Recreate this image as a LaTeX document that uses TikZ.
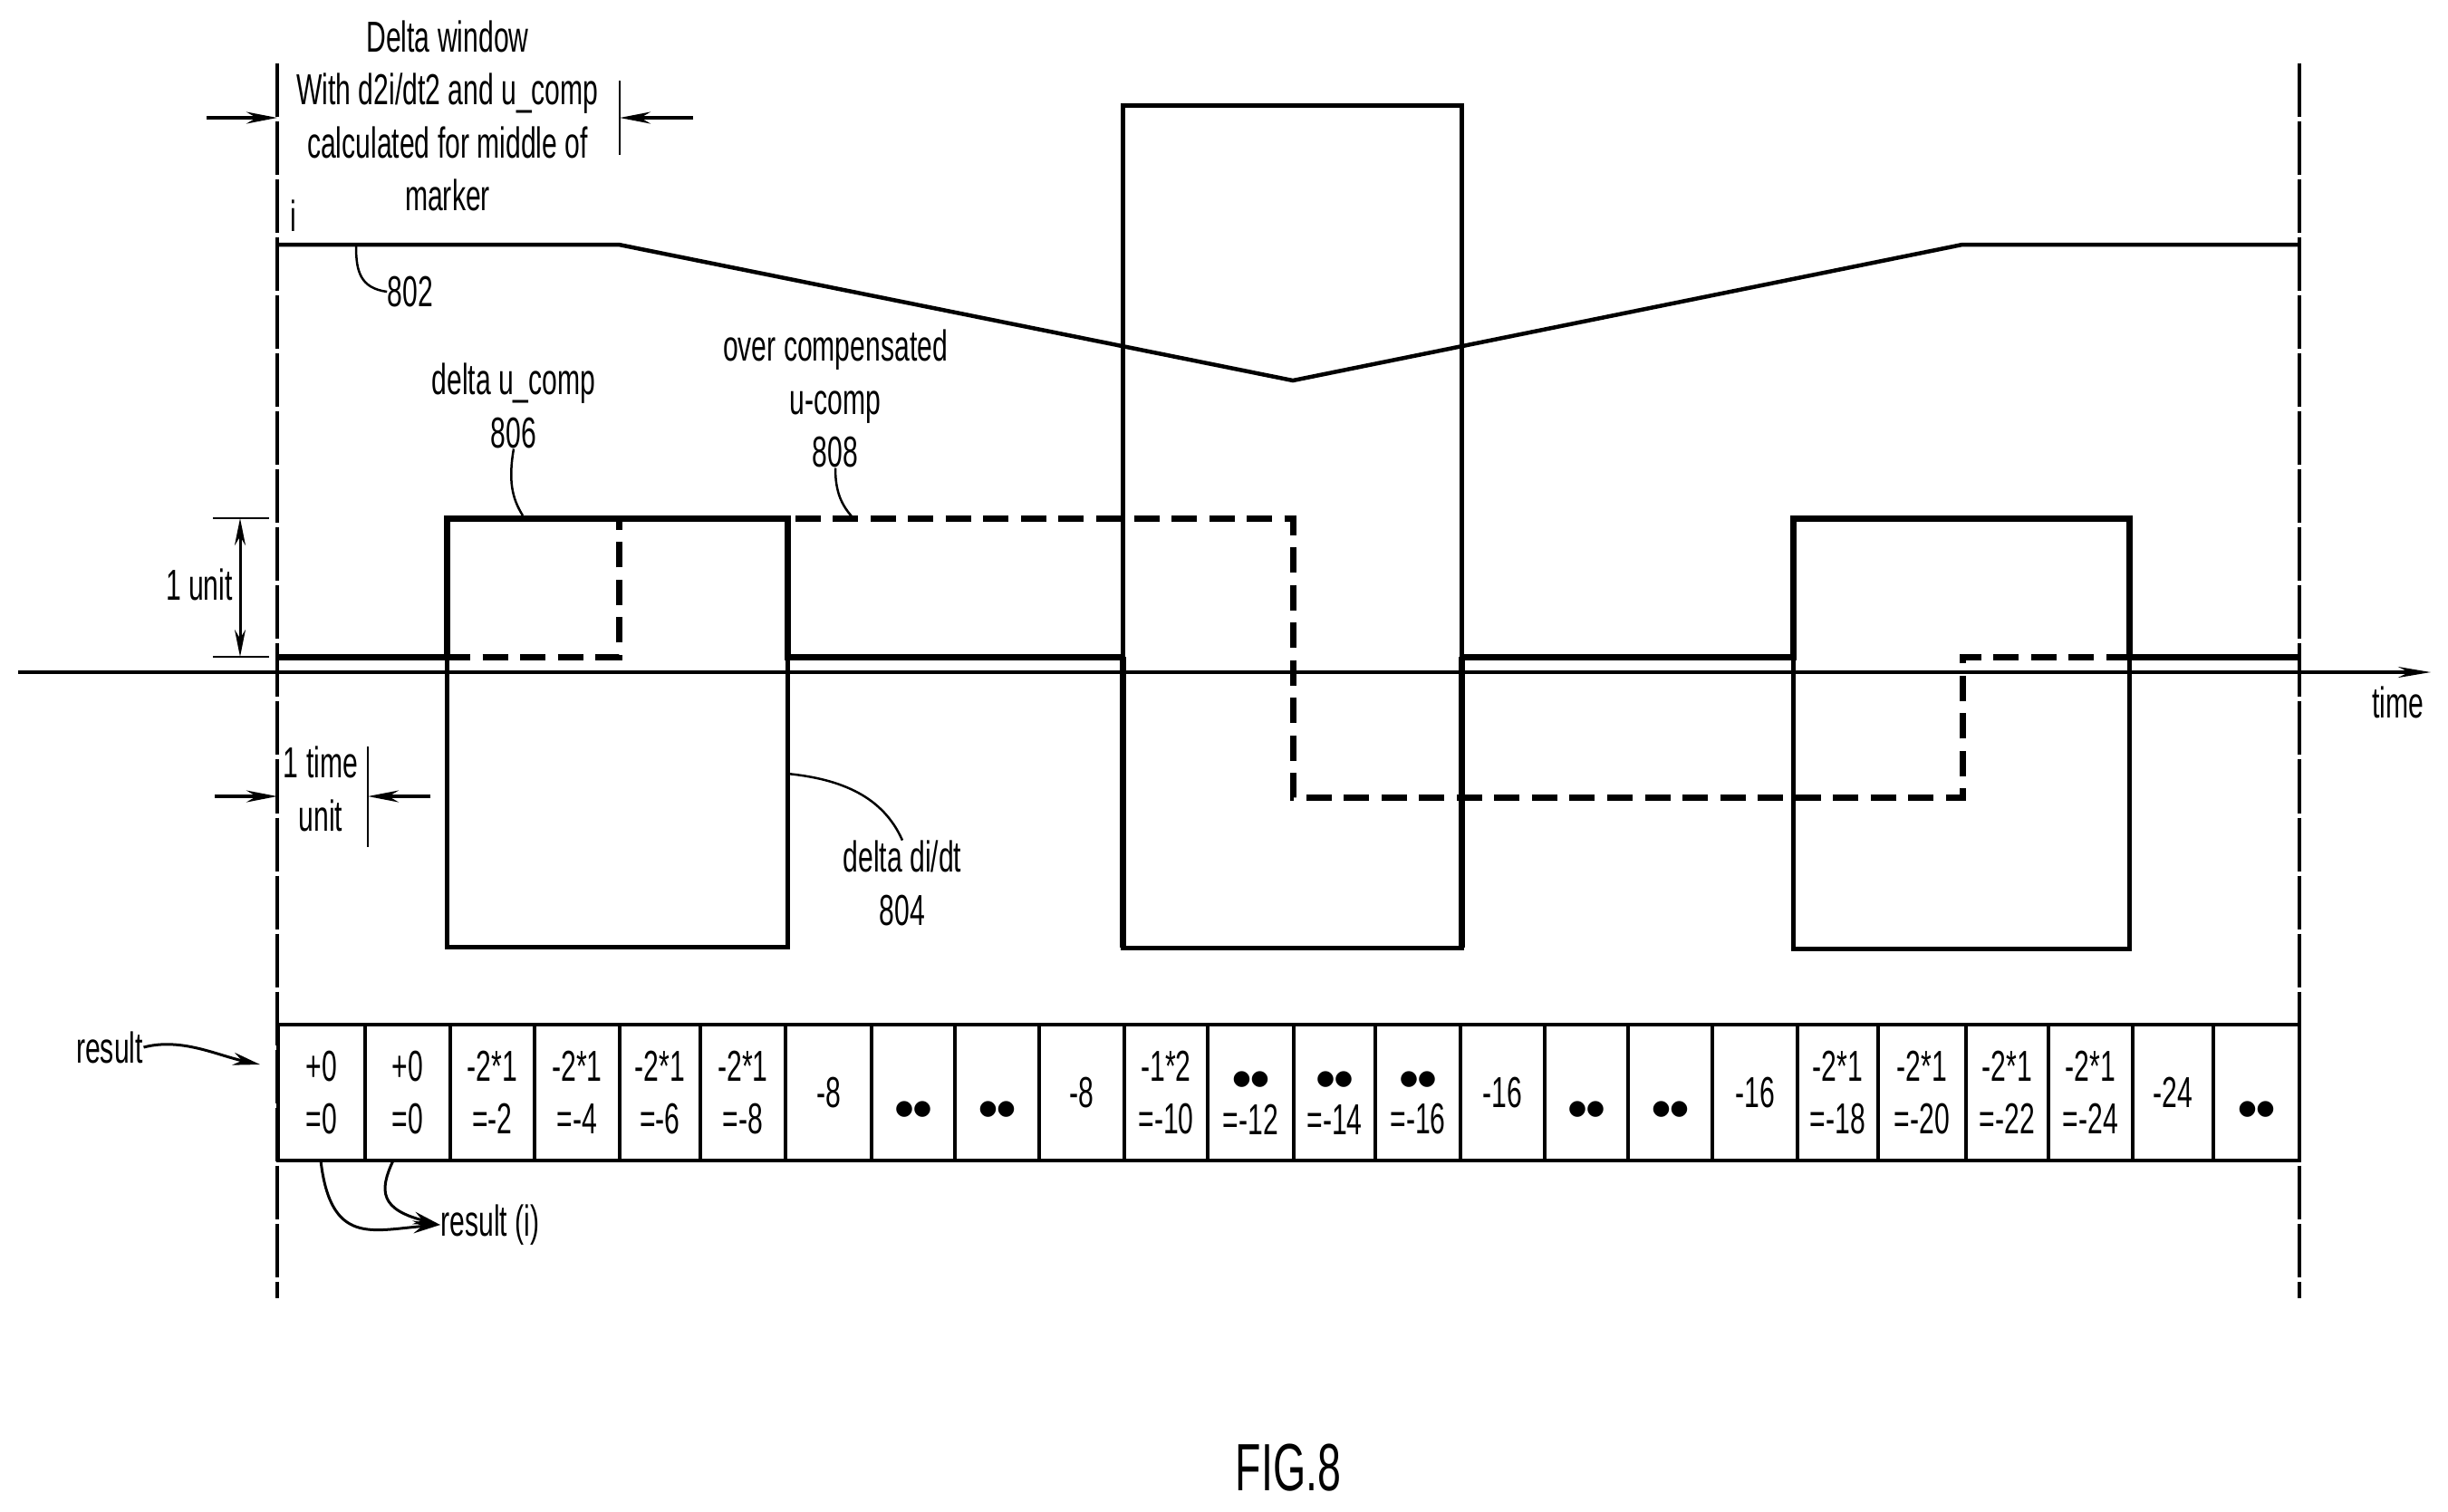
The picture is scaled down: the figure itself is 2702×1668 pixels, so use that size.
\documentclass[tikz,border=0pt]{standalone}
\usepackage{fontspec}
\setmainfont[FakeStretch=0.63]{Liberation Sans}
\newfontfamily\dotfont{DejaVu Sans}
\usetikzlibrary{arrows.meta, positioning}
\newcommand{\lonedots}{\raisebox{-0.24cm}[0pt][0pt]{\dotfont\fontsize{6.5}{8}\selectfont ●●}}
\newcommand{\topdots}{\rule{0pt}{0.34cm}\raisebox{-0.04cm}[0pt][0pt]{\dotfont\fontsize{6.5}{8}\selectfont ●●}}

\begin{document}
\begin{tikzpicture}[x=0.01cm, y=-0.01cm,
        lbl/.style={align=center, inner sep=0pt, font=\fontsize{13.6}{16.6}\selectfont},
        cell/.style={draw, line width=0.04cm, minimum height=1.49cm, inner sep=0pt, outer sep=0pt, align=center, font=\fontsize{13.6}{16.6}\selectfont},
        window/.style={line width=0.032cm, dash pattern=on 0.59cm off 0.05cm},
        axis/.style={line width=0.033cm, -{Stealth[length=0.36cm,width=0.12cm]}},
        current/.style={line width=0.045cm},
        boxline/.style={line width=0.05cm},
        ucomp/.style={line width=0.07cm},
        overcomp/.style={line width=0.07cm, dash pattern=on 0.28cm off 0.135cm},
        tick/.style={line width=0.028cm},
        dimarrow/.style={line width=0.035cm, -{Stealth[length=0.34cm,width=0.13cm]}},
        leader/.style={line width=0.025cm},
        tiparrow/.style={line width=0.03cm, -{Stealth[length=0.3cm,width=0.14cm]}}
    ]
        \useasboundingbox (0,0) rectangle (2702,1668);

        \draw[window] (306,70) -- (306,1433);
        \draw[window] (2538,70) -- (2538,1433);

        \draw[boxline] (493,572) rectangle (869,1045);
        \draw[boxline] (1239,116) rectangle (1613,1046);
        \draw[boxline] (1979,573) rectangle (2350,1047);
        \draw[ucomp] (1239,725) -- (1239,1046);
        \draw[ucomp] (1613,725) -- (1613,1046);

        \node[lbl] (time) at (2647,775) {time};
        \coordinate (axisL) at (20,742);
        \coordinate (axisR) at (2683,742);
        \draw[axis] (axisL) -- (axisR);

        \draw[current] (306,270) -- (683,270) -- (1427,420) -- (2166,270) -- (2538,270);
        \draw[ucomp] (306,725) -- (493,725) -- (493,572) -- (869,572) -- (869,725) -- (1239,725);
        \draw[ucomp] (1613,725) -- (1979,725) -- (1979,572) -- (2350,572) -- (2350,725) -- (2538,725);
        \draw[overcomp] (491,725) -- (683,725) -- (683,572) -- (1427,572) -- (1427,880) -- (2166,880) -- (2166,725) -- (2350,725);

        \node[lbl] (title) at (494,128) {Delta window\\With d2i/dt2 and u\_comp\\calculated for middle of\\marker};
        \node[lbl] (ilabel) at (324,238) {i};
        \node[lbl] (lbl802) at (453,322) {802};
        \node[lbl] (lbl806) at (567,448) {delta u\_comp\\806};
        \node[lbl] (lbl808) at (922,440) {over compensated\\u-comp\\808};
        \node[lbl] (lbl804) at (996,975) {delta di/dt\\804};
        \node[lbl] (oneunit) at (220,645) {1 unit};
        \node[lbl] (onetime) at (354,871) {1 time\\unit};
        \node[lbl] (result) at (121,1156) {result};
        \node[lbl] (resulti) at (541,1352) {result (i)};
        \node[font=\fontsize{21}{24}\selectfont, inner sep=0pt] (figlabel) at (1422,1620) {FIG.8};

        \coordinate (winOutL) at (228,130);
        \coordinate (winInL) at (306,130);
        \coordinate (winOutR) at (765,130);
        \coordinate (winInR) at (684,130);
        \coordinate (winTopR) at (684,89);
        \coordinate (winBotR) at (684,171);
        \draw[tick] (winTopR) -- (winBotR);
        \draw[dimarrow] (winOutL) -- (winInL);
        \draw[dimarrow] (winOutR) -- (winInR);

        \coordinate (unitTopL) at (235,572);
        \coordinate (unitTopR) at (297,572);
        \coordinate (unitBotL) at (235,725);
        \coordinate (unitBotR) at (297,725);
        \coordinate (unitTop) at (265,572);
        \coordinate (unitBot) at (265,725);
        \draw[tick] (unitTopL) -- (unitTopR);
        \draw[tick] (unitBotL) -- (unitBotR);
        \draw[line width=0.03cm, {Stealth[length=0.3cm,width=0.12cm]}-{Stealth[length=0.3cm,width=0.12cm]}] (unitTop) -- (unitBot);

        \coordinate (timeOutL) at (237,879);
        \coordinate (timeInL) at (306,879);
        \coordinate (timeOutR) at (475,879);
        \coordinate (timeInR) at (406,879);
        \coordinate (timeTopR) at (406,824);
        \coordinate (timeBotR) at (406,935);
        \draw[tick] (timeTopR) -- (timeBotR);
        \draw[dimarrow] (timeOutL) -- (timeInL);
        \draw[dimarrow] (timeOutR) -- (timeInR);

        \coordinate (on802) at (393,272);
        \coordinate (on806) at (577,569);
        \coordinate (on808) at (940,570);
        \coordinate (on804) at (869,854);
        \draw[leader] (on802) .. controls (393,300) and (398,318) .. (lbl802.west);
        \draw[leader] (lbl806.south) .. controls (561,530) and (565,550) .. (on806);
        \draw[leader] (lbl808.south) .. controls (922,545) and (930,558) .. (on808);
        \draw[leader] (on804) .. controls (930,860) and (975,880) .. (lbl804.north);

        \foreach \xa/\xb/\txt [count=\n] in {
            307/403/{+0\\=0}, 403/497/{+0\\=0}, 497/590/{-2*1\\=-2}, 590/684/{-2*1\\=-4},
            684/773/{-2*1\\=-6}, 773/867/{-2*1\\=-8}, 867/962/{-8}, 962/1054/{\lonedots},
            1054/1147/{\lonedots}, 1147/1241/{-8}, 1241/1333/{-1*2\\=-10}, 1333/1428/{\topdots\\=-12},
            1428/1518/{\topdots\\=-14}, 1518/1612/{\topdots\\=-16}, 1612/1705/{-16}, 1705/1797/{\lonedots},
            1797/1890/{\lonedots}, 1890/1984/{-16}, 1984/2073/{-2*1\\=-18}, 2073/2170/{-2*1\\=-20},
            2170/2261/{-2*1\\=-22}, 2261/2354/{-2*1\\=-24}, 2354/2443/{-24}, 2443/2538/{\lonedots}}
            \node[cell, minimum width={(\xb-\xa)*0.01cm}] (cell\n) at ({(\xa+\xb)/2},1206) {\txt};

        \coordinate (resTip) at (287,1175);
        \coordinate (res1) at (354,1281);
        \coordinate (res2) at (434,1281);
        \draw[tiparrow] (result.east) .. controls (200,1145) and (240,1165) .. (resTip);
        \draw[tiparrow] (res1) .. controls (365,1375) and (410,1358) .. (resulti.west);
        \draw[tiparrow] (res2) .. controls (418,1315) and (420,1335) .. (resulti.west);
    \end{tikzpicture}
\end{document}
